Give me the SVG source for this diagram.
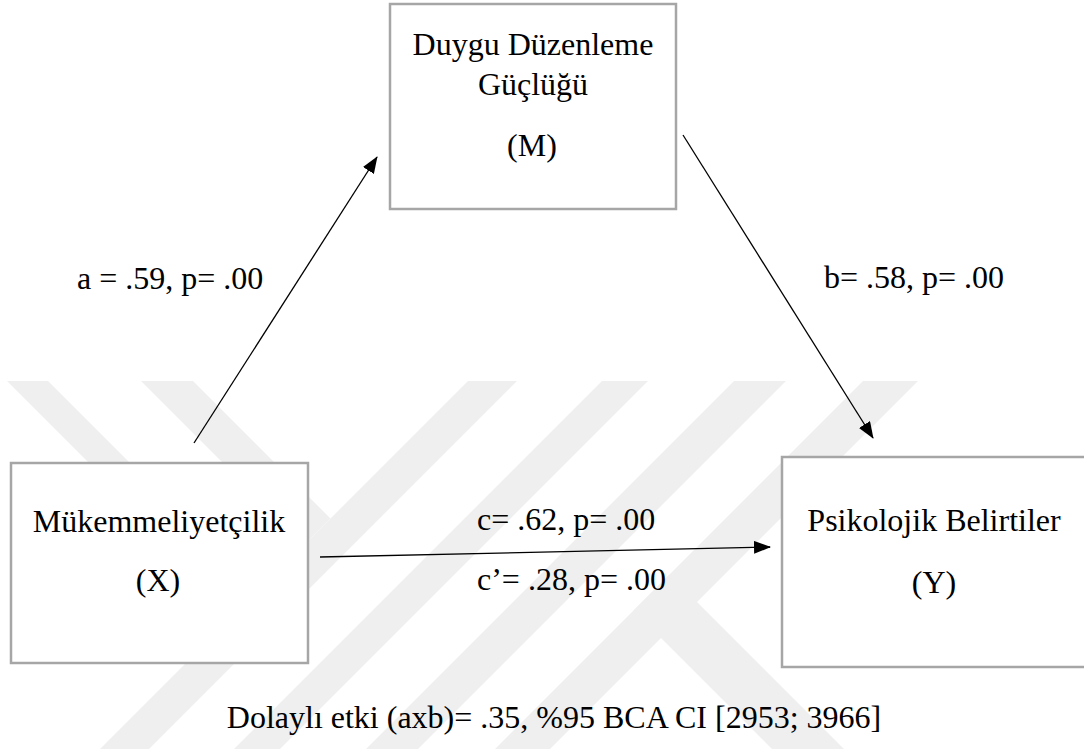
<svg xmlns="http://www.w3.org/2000/svg" width="1084" height="749" viewBox="0 0 1084 749">
<style>
.t{font-family:"Liberation Serif","Times New Roman",serif;font-size:32px;fill:#000}
.box{fill:#fff;stroke:#a6a6a6;stroke-width:2.5}
.wm{fill:#efefef}
.edge{stroke:#000;stroke-width:1.3;fill:none}
</style>
<defs>
<marker id="ah" markerWidth="17" markerHeight="13" refX="16" refY="6.5" orient="auto" markerUnits="userSpaceOnUse"><path d="M0,0 L17,6.5 L0,13 Z" fill="#000"/></marker>
<clipPath id="wmclip"><rect x="0" y="381" width="1084" height="368"/></clipPath>
</defs>
<rect width="1084" height="749" fill="#fff"/>
<g id="watermark" clip-path="url(#wmclip)">
<polygon class="wm" points="7,381 48,381 258,591 237.5,611.5"/>
<polygon class="wm" points="141,381 193,381 330.5,518.5 304.5,544.5"/>
<polygon class="wm" points="468,381 517,381 149,749 100,749"/>
<polygon class="wm" points="602,381 648,381 280,749 234,749"/>
<polygon class="wm" points="734,381 786,381 418,749 366,749"/>
<polygon class="wm" points="863,381 918,381 550,749 495,749"/>
<polygon class="wm" points="633.5,610.5 669.5,574.5 844,749 772,749"/>
</g>
<g id="connectors">
<line class="edge" x1="194" y1="443" x2="377" y2="157" marker-end="url(#ah)"/>
<line class="edge" x1="683" y1="135" x2="873" y2="438" marker-end="url(#ah)"/>
<line class="edge" x1="320" y1="557" x2="770" y2="547" marker-end="url(#ah)"/>
</g>
<g id="node-M">
<rect class="box" x="390" y="4" width="286" height="205"/>
<text class="t" x="533" y="55" text-anchor="middle">Duygu Düzenleme</text>
<text class="t" x="533" y="95" text-anchor="middle">Güçlüğü</text>
<text class="t" x="532" y="156" text-anchor="middle">(M)</text>
</g>
<g id="node-X">
<rect class="box" x="11" y="463" width="297" height="200"/>
<text class="t" x="159" y="532" text-anchor="middle">Mükemmeliyetçilik</text>
<text class="t" x="158" y="591" text-anchor="middle">(X)</text>
</g>
<g id="node-Y">
<rect class="box" x="782" y="457" width="310" height="210"/>
<text class="t" x="934" y="531" text-anchor="middle">Psikolojik Belirtiler</text>
<text class="t" x="934" y="593" text-anchor="middle">(Y)</text>
</g>
<g id="labels">
<text class="t" x="77" y="289">a = .59, p= .00</text>
<text class="t" x="824" y="288">b= .58, p= .00</text>
<text class="t" x="477" y="530">c= .62, p= .00</text>
<text class="t" x="477" y="590">c’= .28, p= .00</text>
<text class="t" x="554" y="728" text-anchor="middle">Dolaylı etki (axb)= .35, %95 BCA CI [2953; 3966]</text>
</g>
</svg>
